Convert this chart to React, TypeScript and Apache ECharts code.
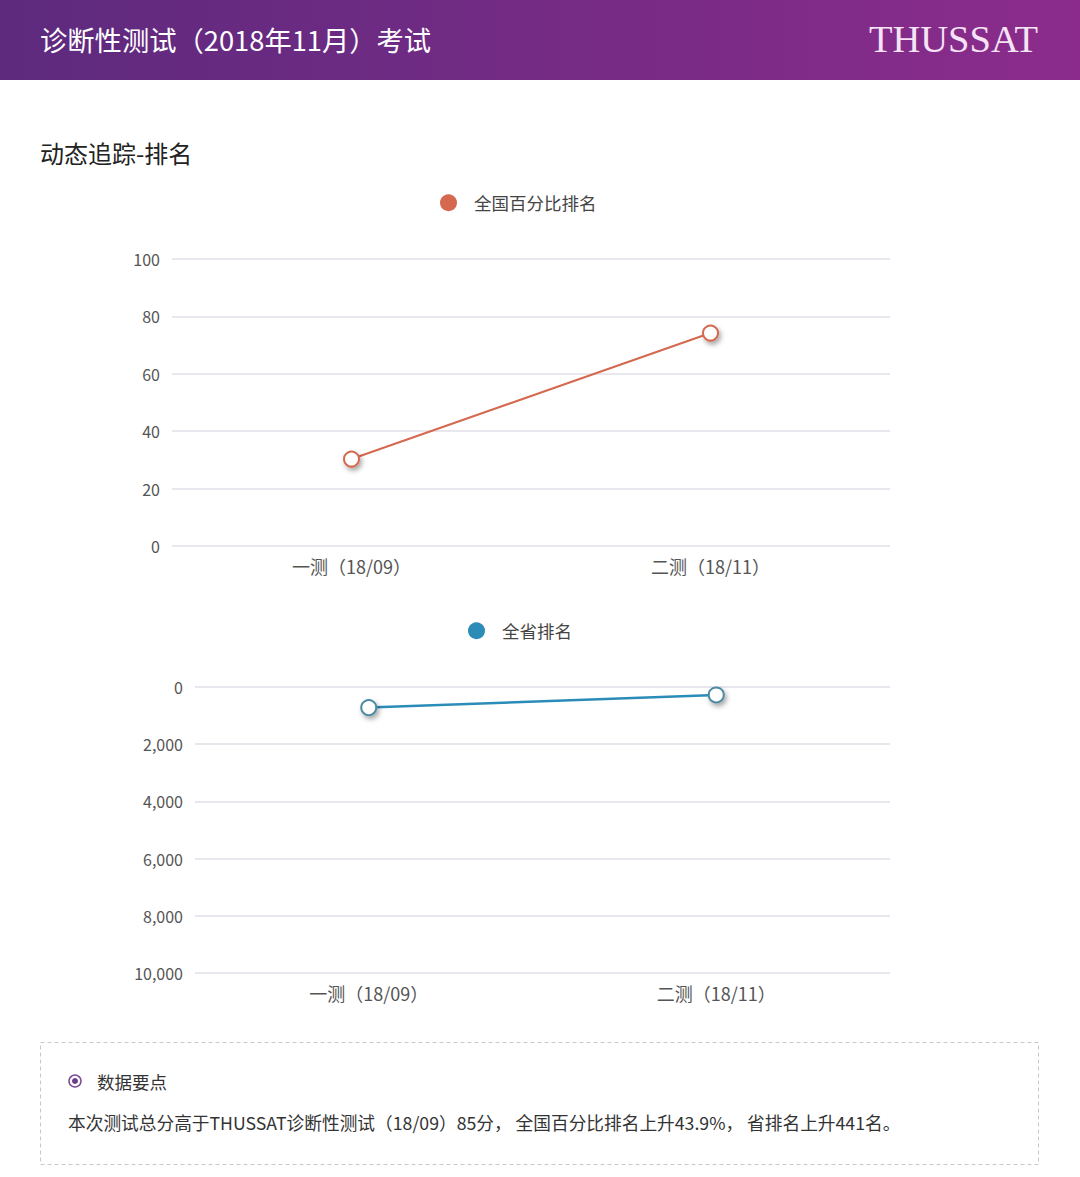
import React, { useEffect, useRef } from "react";
import * as echarts from "echarts";

const categories = ["一测（18/09）", "二测（18/11）"];
const nationalPercentRank = [30.3, 74.2];
const provinceRank = [720, 279];
const nationalTicks = { min: 0, max: 100, interval: 20 };
const provinceTicks = { min: 0, max: 10000, interval: 2000 };
const headerTitle = "诊断性测试（2018年11月）考试";
const brand = "THUSSAT";
const sectionTitle = "动态追踪-排名";
const noteTitle = "数据要点";
const noteText = "本次测试总分高于THUSSAT诊断性测试（18/09）85分， 全国百分比排名上升43.9%， 省排名上升441名。";

const FONT = "'Noto Sans CJK SC', 'Noto Sans', sans-serif";
const RED = "#d4694f";
const BLUE = "#2b8cb8";

export default function App() {
  const ref = useRef<HTMLDivElement>(null);
  useEffect(() => {
    if (!ref.current) return;
    const chart = echarts.init(ref.current, null, { renderer: "svg" });
    const yLabel = { color: "#555", fontSize: 16, fontFamily: FONT, margin: 12 };
    const xLabel = { color: "#555", fontSize: 18, fontFamily: FONT, margin: 11 };
    const split = { lineStyle: { color: "#e2dfe8", width: 1.5 } };
    chart.setOption({
      animation: false,
      backgroundColor: "#ffffff",
      textStyle: { fontFamily: FONT },
      legend: [
        {
          left: 435,
          top: 189,
          itemWidth: 17,
          itemHeight: 17,
          textStyle: { fontSize: 17.5, color: "#444", fontFamily: FONT, padding: [0, 0, 0, 12] },
          data: [{ name: "全国百分比排名", icon: "circle", itemStyle: { color: RED, borderWidth: 0, shadowBlur: 0 } }],
        },
        {
          left: 463,
          top: 617,
          itemWidth: 17,
          itemHeight: 17,
          textStyle: { fontSize: 17.5, color: "#444", fontFamily: FONT, padding: [0, 0, 0, 12] },
          data: [{ name: "全省排名", icon: "circle", itemStyle: { color: BLUE, borderWidth: 0, shadowBlur: 0 } }],
        },
      ],
      grid: [
        { left: 172, right: 190, top: 259, height: 287 },
        { left: 195, right: 190, top: 687, height: 286 },
      ],
      xAxis: [
        {
          gridIndex: 0,
          type: "category",
          data: categories,
          axisLine: { show: false },
          axisTick: { show: false },
          axisLabel: xLabel,
        },
        {
          gridIndex: 1,
          type: "category",
          data: categories,
          axisLine: { show: false },
          axisTick: { show: false },
          axisLabel: xLabel,
        },
      ],
      yAxis: [
        {
          gridIndex: 0,
          type: "value",
          min: nationalTicks.min,
          max: nationalTicks.max,
          interval: nationalTicks.interval,
          axisLine: { show: false },
          axisTick: { show: false },
          axisLabel: yLabel,
          splitLine: split,
        },
        {
          gridIndex: 1,
          type: "value",
          inverse: true,
          min: provinceTicks.min,
          max: provinceTicks.max,
          interval: provinceTicks.interval,
          axisLine: { show: false },
          axisTick: { show: false },
          axisLabel: {
            ...yLabel,
            formatter: (v: number) => v.toLocaleString("en-US"),
          },
          splitLine: split,
        },
      ],
      series: [
        {
          name: "全国百分比排名",
          type: "line",
          xAxisIndex: 0,
          yAxisIndex: 0,
          data: nationalPercentRank,
          symbol: "emptyCircle",
          symbolSize: 15,
          lineStyle: { color: RED, width: 2 },
          itemStyle: {
            color: RED,
            borderColor: RED,
            borderWidth: 1.5,
            shadowBlur: 5,
            shadowOffsetX: 2,
            shadowOffsetY: 3,
            shadowColor: "rgba(0,0,0,0.35)",
          },
        },
        {
          name: "全省排名",
          type: "line",
          xAxisIndex: 1,
          yAxisIndex: 1,
          data: provinceRank,
          symbol: "emptyCircle",
          symbolSize: 15,
          lineStyle: { color: BLUE, width: 2.5 },
          itemStyle: {
            color: "#4f8aa3",
            borderColor: "#4f8aa3",
            borderWidth: 1.5,
            shadowBlur: 5,
            shadowOffsetX: 2,
            shadowOffsetY: 3,
            shadowColor: "rgba(0,0,0,0.35)",
          },
        },
      ],
      graphic: [
        {
          type: "rect",
          shape: { x: 0, y: 0, width: 1080, height: 80 },
          style: {
            fill: new echarts.graphic.LinearGradient(0, 0, 1, 0, [
              { offset: 0, color: "#5d2a7e" },
              { offset: 1, color: "#8b2c8b" },
            ]),
          },
          silent: true,
        },
        {
          type: "text",
          x: 40,
          y: 39,
          style: {
            text: headerTitle,
            fill: "#ffffff",
            fontSize: 27.3,
            fontFamily: FONT,
            verticalAlign: "middle",
            align: "left",
          },
        },
        {
          type: "text",
          x: 1038,
          y: 39,
          style: {
            text: brand,
            fill: "#f6e3f6",
            fontSize: 38.5,
            fontFamily: "'Liberation Serif', 'DejaVu Serif', serif",
            verticalAlign: "middle",
            align: "right",
          },
        },
        {
          type: "text",
          x: 40,
          y: 152,
          style: {
            text: sectionTitle,
            fill: "#222",
            fontSize: 24,
            fontFamily: FONT,
            verticalAlign: "middle",
            align: "left",
          },
        },
        {
          type: "rect",
          shape: { x: 40.5, y: 1042.5, width: 998, height: 122 },
          style: { fill: "none", stroke: "#c8c8c8", lineWidth: 1, lineDash: [4, 3] },
        },
        {
          type: "circle",
          shape: { cx: 75, cy: 1081, r: 6 },
          style: { fill: "#fff", stroke: "#7a4c95", lineWidth: 1.5 },
        },
        {
          type: "circle",
          shape: { cx: 75, cy: 1081, r: 3 },
          style: { fill: "#6b3c88" },
        },
        {
          type: "text",
          x: 97,
          y: 1081,
          style: {
            text: noteTitle,
            fill: "#333",
            fontSize: 17.5,
            fontFamily: FONT,
            verticalAlign: "middle",
            align: "left",
          },
        },
        {
          type: "text",
          x: 68,
          y: 1122,
          style: {
            text: noteText,
            fill: "#333",
            fontSize: 17.7,
            fontFamily: FONT,
            verticalAlign: "middle",
            align: "left",
          },
        },
      ],
    });
    return () => chart.dispose();
  }, []);
  return (
    <div
      ref={ref}
      style={{ position: "fixed", left: 0, top: 0, width: 1080, height: 1177, background: "#fff" }}
    />
  );
}
